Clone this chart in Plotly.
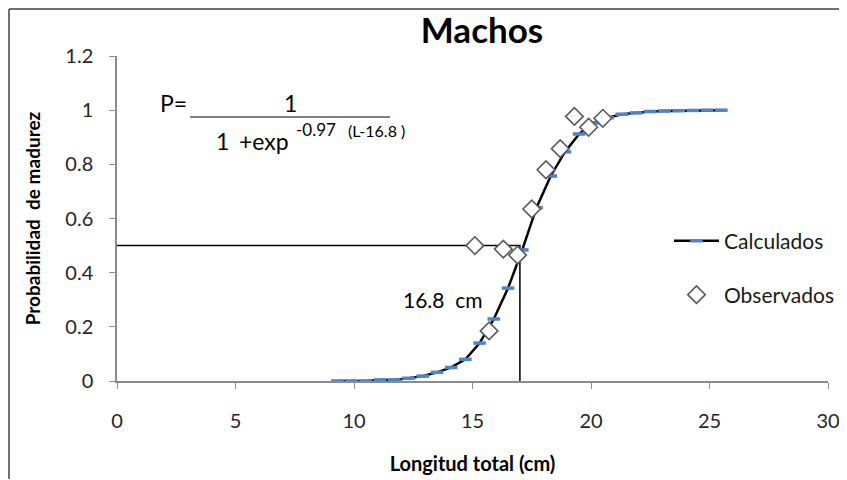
import plotly.graph_objects as go

# Calculated maturity curve
calc_length = [9.3, 9.9, 10.5, 11.1, 11.7, 12.3, 12.9, 13.5, 14.1, 14.7, 15.3, 15.9, 16.5, 17.1,
               17.7, 18.3, 18.9, 19.5, 20.1, 20.7, 21.3, 21.9, 22.5, 23.1, 23.7, 24.3, 24.9, 25.5]
calc_prob = [0.0, 0.0, 0.0, 0.004, 0.004, 0.01, 0.018, 0.032, 0.05, 0.08, 0.14, 0.229, 0.343, 0.484,
             0.64, 0.757, 0.846, 0.912, 0.953, 0.972, 0.985, 0.99, 0.995, 0.997, 0.998, 0.999, 1.0, 1.0]

# Observed proportions
obs_length = [15.1, 15.7, 16.3, 16.9, 17.5, 18.1, 18.7, 19.3, 19.9, 20.5]
obs_prob = [0.50, 0.185, 0.487, 0.465, 0.635, 0.78, 0.858, 0.977, 0.937, 0.97]

# L50 reference box
l50_x = [0, 17.0, 17.0]
l50_y = [0.5, 0.5, 0]

x_ticks = [0, 5, 10, 15, 20, 25, 30]
y_ticks = [0, 0.2, 0.4, 0.6, 0.8, 1, 1.2]
y_ticktext = ["0", "0.2", "0.4", "0.6", "0.8", "1", "1.2"]

FONT = "Lato, 'Open Sans', sans-serif"
OFF = 8                      # page body margin
W, H = 847 - OFF, 480 - OFF  # figure size
# plot area in screen pixels
SX0, SX1, SY0, SY1 = 117, 828, 56, 381
L = SX0 - OFF
R = W - (SX1 - OFF)
T = SY0 - OFF
B = H - (SY1 - OFF)


def px(sx):
    return (sx - SX0) / (SX1 - SX0)


def py(sy):
    return (SY1 - sy) / (SY1 - SY0)


fig = go.Figure()

fig.add_trace(go.Scatter(
    x=l50_x, y=l50_y, mode="lines",
    line=dict(color="black", width=1.5),
    showlegend=False, hoverinfo="skip",
))

fig.add_trace(go.Scatter(
    x=calc_length, y=calc_prob, mode="lines+markers", name="Calculados",
    line=dict(color="black", width=2.5),
    marker=dict(symbol="line-ew", size=9, line=dict(color="#4a86c8", width=3.5)),
    legend="legend",
))

fig.add_trace(go.Scatter(
    x=obs_length, y=obs_prob, mode="markers", name="Observados",
    marker=dict(symbol="diamond", size=13.5, color="white",
                line=dict(color="#5a5a5a", width=1.6)),
    legend="legend2",
))

fig.update_layout(
    width=W, height=H,
    margin=dict(l=L, r=R, t=T, b=B, autoexpand=False),
    paper_bgcolor="white", plot_bgcolor="white",
    font=dict(family=FONT, size=20, color="#222"),
    title=dict(text="<b>Machos</b>", xref="paper", x=px(482), xanchor="center",
               yref="container", y=1 - (31 - OFF) / H, yanchor="middle",
               font=dict(size=35, color="black", family=FONT)),
    xaxis=dict(range=[0, 30], tickvals=x_ticks, showgrid=False, zeroline=False,
               automargin=False,
               showline=True, linecolor="#8c8c8c", linewidth=1.5,
               ticks="outside", ticklen=6, tickcolor="#8c8c8c",
               tickfont=dict(size=20, color="#262626"), ticklabelstandoff=15,
               title=dict(text="<b>Longitud total (cm)</b>", font=dict(size=20, color="black"),
                          standoff=26)),
    yaxis=dict(range=[0, 1.2], tickvals=y_ticks, ticktext=y_ticktext, showgrid=False,
               automargin=False,
               zeroline=False, showline=True, linecolor="#8c8c8c", linewidth=1.5,
               ticks="outside", ticklen=6, tickcolor="#8c8c8c",
               tickfont=dict(size=20, color="#262626"), ticklabelstandoff=12,
               title=dict(text="<b>Probabilidad  de madurez</b>", font=dict(size=19, color="black"),
                          standoff=20)),
    legend=dict(x=px(669), y=py(241), xanchor="left", yanchor="middle",
                bgcolor="rgba(0,0,0,0)", font=dict(size=21, color="#1a1a1a"), itemwidth=45),
    legend2=dict(x=px(669), y=py(295), xanchor="left", yanchor="middle",
                 bgcolor="rgba(0,0,0,0)", font=dict(size=21, color="#1a1a1a"), itemwidth=45),
    showlegend=True,
)

# Chart border (outer frame: left and top edges visible)
frame = dict(color="#404040", width=1.5)
fig.add_shape(type="line", xref="paper", yref="paper",
              x0=px(9), x1=px(9), y0=py(479), y1=py(9), line=frame, layer="above")
fig.add_shape(type="line", xref="paper", yref="paper",
              x0=px(9), x1=px(847), y0=py(9), y1=py(9), line=frame, layer="above")

# Equation
eq_font = dict(size=23, color="black")
fig.add_annotation(xref="paper", yref="paper", x=px(158), y=py(103), xanchor="left", yanchor="middle",
                   text="P=", showarrow=False, font=eq_font)
fig.add_annotation(xref="paper", yref="paper", x=px(290), y=py(103), xanchor="center", yanchor="middle",
                   text="1", showarrow=False, font=eq_font)
fig.add_shape(type="line", xref="paper", yref="paper", x0=px(190), x1=px(390), y0=py(117), y1=py(117),
              line=dict(color="black", width=1.2))
fig.add_annotation(xref="paper", yref="paper", x=px(222), y=py(141), xanchor="center", yanchor="middle",
                   text="1", showarrow=False, font=eq_font)
fig.add_annotation(xref="paper", yref="paper", x=px(237), y=py(141), xanchor="left", yanchor="middle",
                   text="+exp", showarrow=False, font=eq_font)
fig.add_annotation(xref="paper", yref="paper", x=px(294), y=py(130), xanchor="left", yanchor="middle",
                   text="-0.97", showarrow=False, font=dict(size=17, color="black"))
fig.add_annotation(xref="paper", yref="paper", x=px(346), y=py(131), xanchor="left", yanchor="middle",
                   text="(L-16.8 )", showarrow=False, font=dict(size=16, color="black"))

# L50 label
fig.add_annotation(xref="paper", yref="paper", x=px(443), y=py(299), xanchor="center", yanchor="middle",
                   text="16.8  cm", showarrow=False, font=dict(size=21, color="black"))

fig.write_html("out.html")
